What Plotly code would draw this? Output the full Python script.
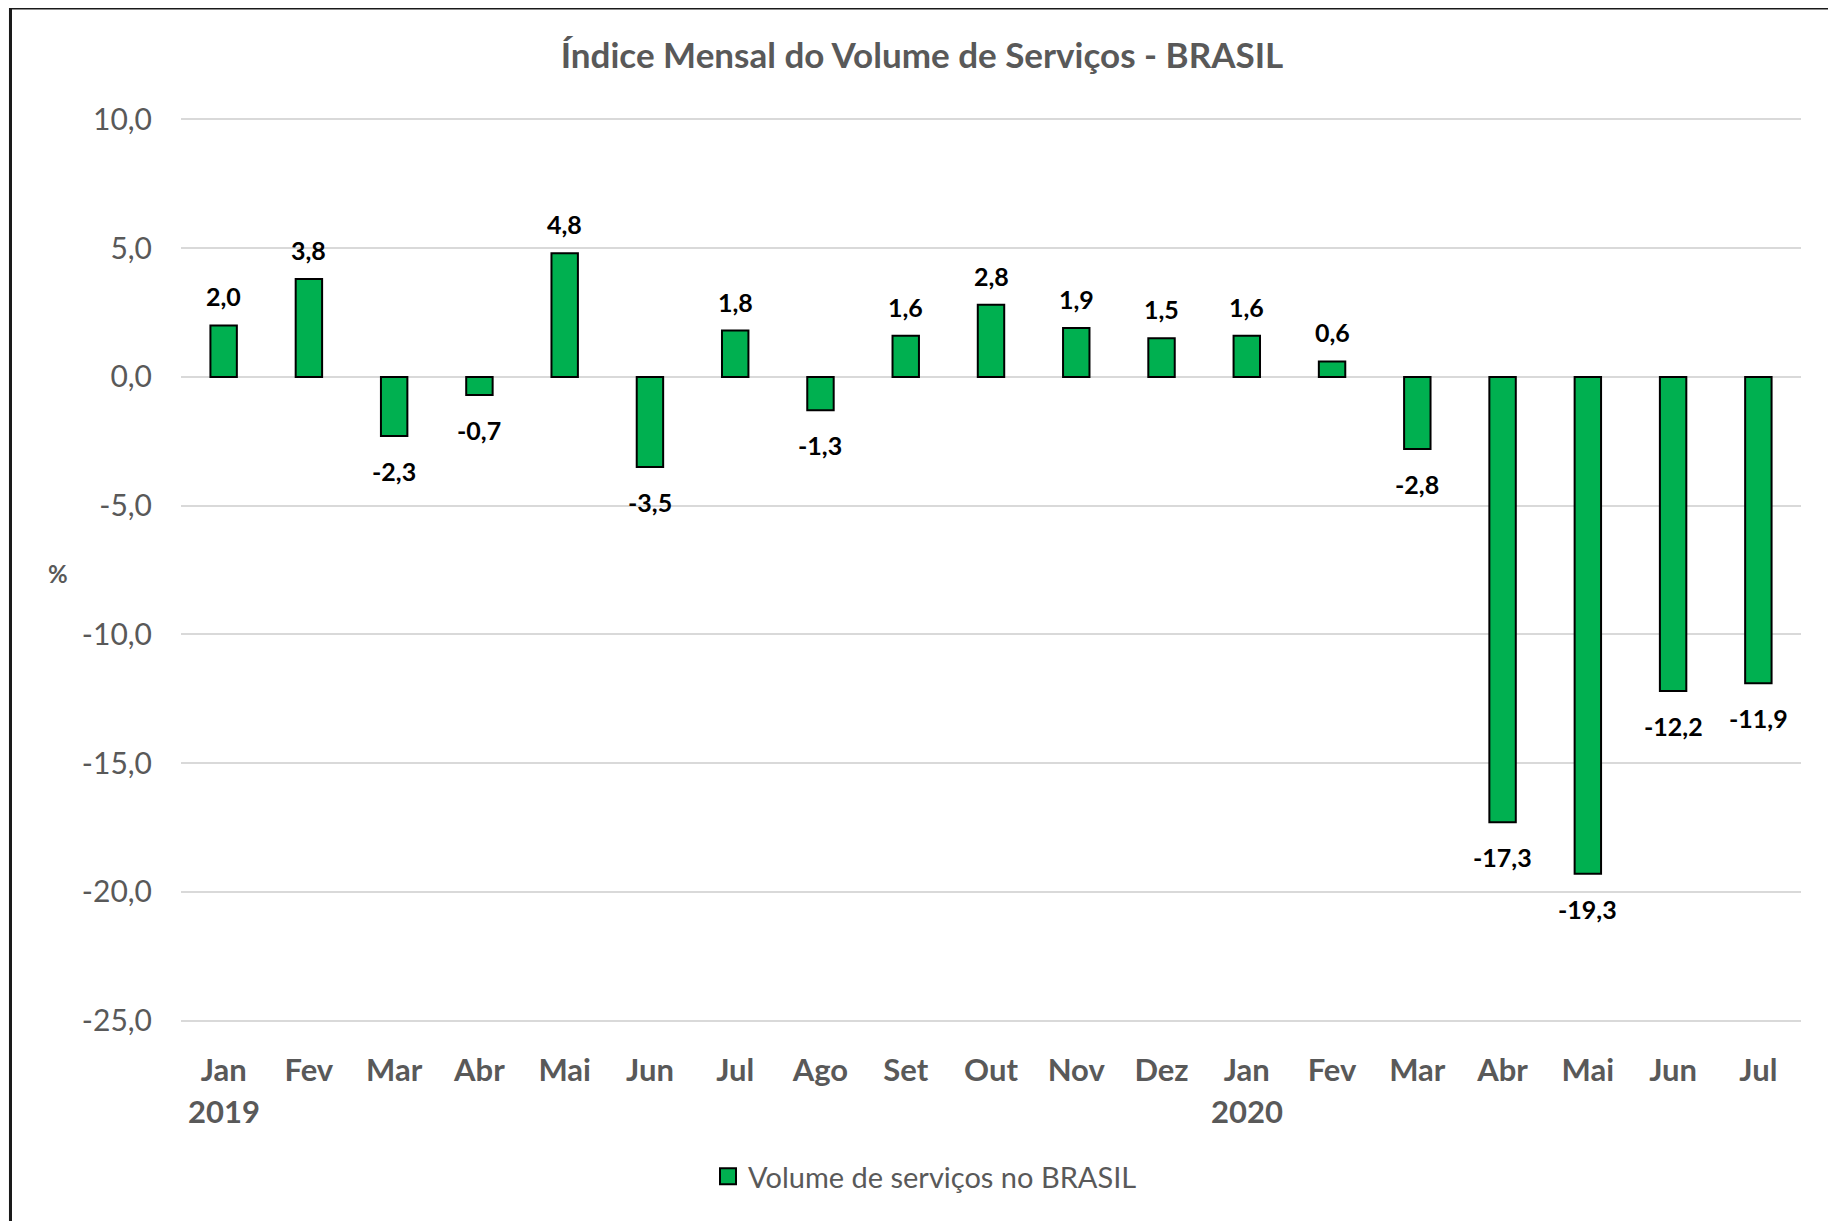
import plotly.graph_objects as go

# ---- data ----
months = ["Jan", "Fev", "Mar", "Abr", "Mai", "Jun", "Jul", "Ago", "Set", "Out",
          "Nov", "Dez", "Jan", "Fev", "Mar", "Abr", "Mai", "Jun", "Jul"]
values = [2.0, 3.8, -2.3, -0.7, 4.8, -3.5, 1.8, -1.3, 1.6, 2.8,
          1.9, 1.5, 1.6, 0.6, -2.8, -17.3, -19.3, -12.2, -11.9]
year_labels = ["2019", "2020"]
year_positions = [0, 12]
y_ticks = [10, 5, 0, -5, -10, -15, -20, -25]
y_tick_labels = ["10,0", "5,0", "0,0", "-5,0", "-10,0", "-15,0", "-20,0", "-25,0"]
series_name = "Volume de serviços no BRASIL"
title_text = "Índice Mensal do Volume de Serviços - BRASIL"

W, H = 1836, 1221
OFF = 8  # page body margin offset
Y_MIN, Y_MAX, PAD = -25, 10, 0.25
PX_TOP_TICK, PX_BOT_TICK = 119.5, 1021.0
ppu = (PX_BOT_TICK - PX_TOP_TICK) / (Y_MAX - Y_MIN)
# target page-pixel geometry
PL, PR = 181, 1801
PT = PX_TOP_TICK - PAD * ppu
PB = PX_BOT_TICK + PAD * ppu
L = PL - OFF
T = PT - OFF
plot_w = PR - PL
plot_h = PB - PT
R = W - L - plot_w
B = H - T - plot_h


def px_to_paper_x(px):
    return (px - PL) / plot_w


def px_to_paper_y(py):
    return (PB - py) / plot_h


FONT = "Lato, 'Open Sans', sans-serif"
GRAY = "#595959"
GREEN = "#00B050"

x = list(range(len(months)))

fig = go.Figure()
fig.add_trace(go.Bar(
    x=x, y=values, name=series_name, width=0.31, showlegend=False,
    marker=dict(color=GREEN, line=dict(color="black", width=2)),
    hoverinfo="y",
))
# legend proxy
fig.add_trace(go.Scatter(
    x=[None], y=[None], mode="markers", name=series_name,
    marker=dict(symbol="square", size=16, color=GREEN, line=dict(color="black", width=2)),
))


def fmt(v):
    return f"{v:.1f}".replace(".", ",")


annotations = []
for xi, v in zip(x, values):
    annotations.append(dict(
        x=xi, y=v, xref="x", yref="y", text=fmt(v), showarrow=False,
        yanchor="middle", yshift=29 if v >= 0 else -35,
        font=dict(family=FONT, size=25, color="black", weight="bold"),
    ))
for lbl, pos in zip(year_labels, year_positions):
    annotations.append(dict(
        x=pos, y=px_to_paper_y(1111), xref="x", yref="paper", text=lbl,
        showarrow=False, yanchor="middle",
        font=dict(family=FONT, size=31, color=GRAY, weight="bold"),
    ))
annotations.append(dict(
    x=px_to_paper_x(58), y=px_to_paper_y(574), xref="paper", yref="paper",
    text="%", showarrow=False, xanchor="center", yanchor="middle",
    font=dict(family=FONT, size=24, color=GRAY, weight="bold"),
))

# outer border frame
shapes = [dict(
    type="rect", xref="paper", yref="paper", layer="below",
    x0=px_to_paper_x(10.5), x1=px_to_paper_x(1832),
    y0=px_to_paper_y(1240), y1=px_to_paper_y(8),
    fillcolor="white", line=dict(color="#1a1a1a", width=3),
)]

fig.update_layout(
    width=W, height=H,
    margin=dict(l=L, r=R, t=T, b=B, autoexpand=False),
    paper_bgcolor="#F8F8F8", plot_bgcolor="rgba(0,0,0,0)",
    title=dict(text=title_text, x=(922 - OFF) / W, xanchor="center",
               y=1 - (56 - OFF) / H, yanchor="middle", xref="container", yref="container",
               font=dict(family=FONT, size=35, color=GRAY, weight="bold")),
    showlegend=True,
    legend=dict(orientation="h", x=px_to_paper_x(925), xanchor="center",
                y=px_to_paper_y(1177), yanchor="middle",
                font=dict(family=FONT, size=29, color=GRAY), bgcolor="rgba(0,0,0,0)"),
    xaxis=dict(tickmode="array", tickvals=x, ticktext=months, range=[-0.5, len(months) - 0.5],
               showgrid=False, zeroline=False, showline=False, ticks="",
               ticklabelstandoff=22,
               tickfont=dict(family=FONT, size=31, color=GRAY, weight="bold")),
    yaxis=dict(tickmode="array", tickvals=y_ticks, ticktext=y_tick_labels,
               range=[Y_MIN - PAD, Y_MAX + PAD],
               showgrid=True, gridcolor="#D9D9D9", gridwidth=1.5,
               zeroline=False, showline=False, ticks="", ticklabelstandoff=28,
               tickfont=dict(family=FONT, size=30, color=GRAY)),
    annotations=annotations,
    shapes=shapes,
)

fig.write_html("out.html")
